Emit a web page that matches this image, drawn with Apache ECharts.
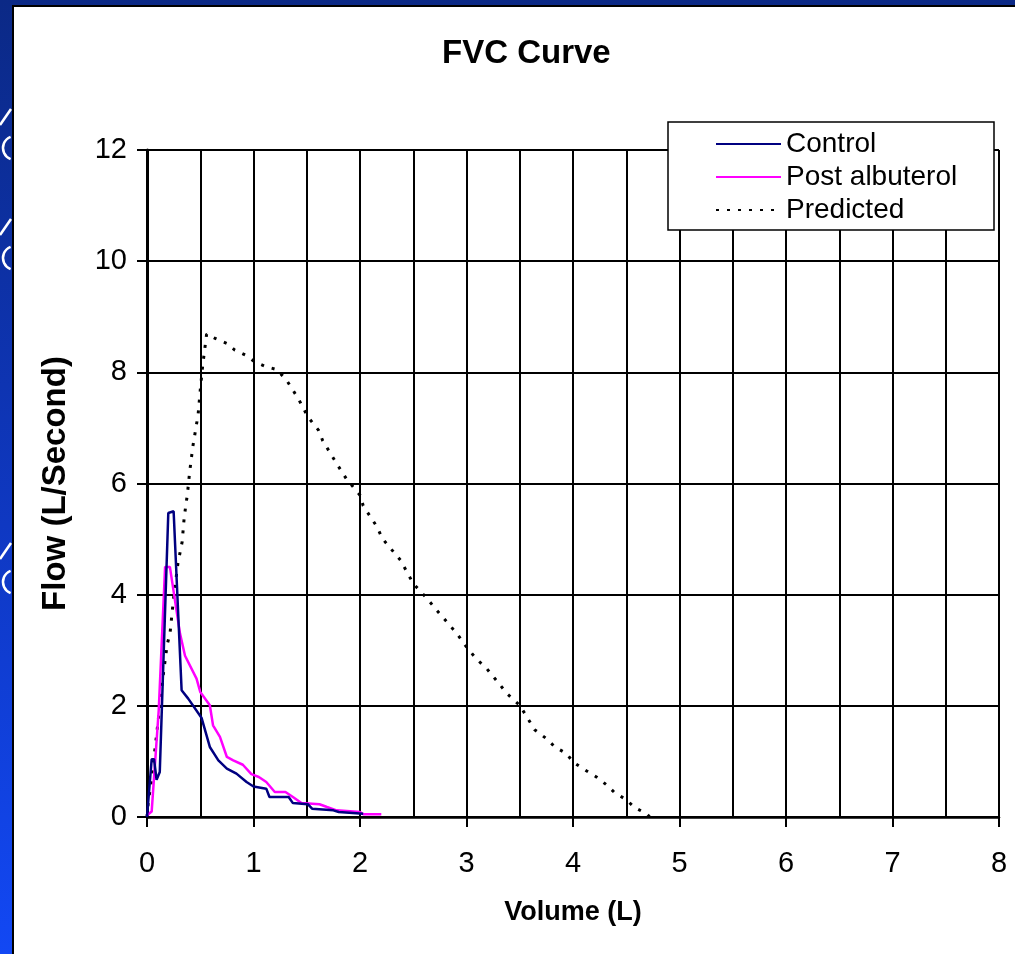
<!DOCTYPE html>
<html>
<head>
<meta charset="utf-8">
<title>FVC Curve</title>
<script src="https://cdn.jsdelivr.net/npm/echarts@6/dist/echarts.min.js"></script>
<style>
  html, body { margin: 0; padding: 0; width: 1015px; height: 954px; overflow: hidden;
    background: linear-gradient(to bottom, #0b2986 0%, #0f38c2 55%, #1248f4 100%); }
  #panel { position: absolute; left: 12px; top: 5px; width: 1020px; height: 960px;
    background: #fff; border-left: 2px solid #000; border-top: 2px solid #000; box-sizing: border-box; }
  #chart { position: absolute; left: 0; top: 0; width: 1015px; height: 954px; }
</style>
</head>
<body>
<div id="panel"></div>
<div id="chart"></div>
<script>
// Spirometry flow-volume loops: [volume (L), flow (L/s)]
const seriesNames = ['Control', 'Post albuterol', 'Predicted'];

const control = [
  [0, 0], [0.044, 1.04], [0.066, 1.04], [0.09, 0.67], [0.12, 0.81], [0.2, 5.47], [0.25, 5.5],
  [0.325, 2.28], [0.387, 2.13], [0.513, 1.78], [0.59, 1.26], [0.67, 1.02], [0.75, 0.87],
  [0.84, 0.78], [0.935, 0.63], [1.0, 0.55], [1.12, 0.51], [1.15, 0.36], [1.33, 0.36],
  [1.37, 0.25], [1.51, 0.23], [1.55, 0.15], [1.75, 0.12], [1.8, 0.09], [2.03, 0.06]
];

const postAlbuterol = [
  [0, 0.03], [0.044, 0.1], [0.11, 1.92], [0.17, 4.5], [0.215, 4.5], [0.31, 3.3], [0.357, 2.9],
  [0.465, 2.49], [0.5, 2.25], [0.59, 2.01], [0.62, 1.65], [0.685, 1.44], [0.75, 1.08],
  [0.81, 1.02], [0.9, 0.94], [0.98, 0.77], [1.05, 0.72], [1.12, 0.63], [1.2, 0.45],
  [1.3, 0.45], [1.37, 0.36], [1.45, 0.25], [1.62, 0.23], [1.69, 0.18], [1.78, 0.12],
  [2.0, 0.09], [2.03, 0.05], [2.2, 0.05]
];

const predicted = [
  [0, 0], [0.01, 0.23], [0.044, 0.7], [0.09, 1.48], [0.15, 2.52], [0.19, 3.11], [0.216, 3.3],
  [0.25, 3.94], [0.29, 4.56], [0.33, 4.95], [0.35, 5.4], [0.38, 5.82], [0.4, 6.2], [0.43, 6.66],
  [0.48, 7.24], [0.5, 7.68], [0.52, 8.07], [0.535, 8.31], [0.56, 8.69], [0.64, 8.61],
  [0.75, 8.52], [0.825, 8.4], [0.935, 8.3], [1.01, 8.19], [1.12, 8.1], [1.22, 8.05],
  [1.31, 7.86], [1.42, 7.53], [1.51, 7.2], [1.61, 6.96], [1.65, 6.77], [1.78, 6.36],
  [1.87, 6.09], [2.0, 5.79], [2.03, 5.6], [2.16, 5.22], [2.21, 5.01], [2.38, 4.62],
  [2.5, 4.2], [2.63, 3.93], [2.72, 3.72], [2.91, 3.3], [3.0, 3.06], [3.09, 2.85],
  [3.19, 2.67], [3.28, 2.46], [3.38, 2.22], [3.5, 2.01], [3.64, 1.57], [3.75, 1.41],
  [3.83, 1.26], [3.94, 1.14], [4.0, 0.99], [4.11, 0.85], [4.22, 0.72], [4.32, 0.57],
  [4.39, 0.44], [4.5, 0.31], [4.58, 0.17], [4.69, 0.06], [4.72, 0]
];

const volumeRange = [0, 8];
const flowRange = [0, 12];

const FONT = '"Liberation Sans", Arial, Helvetica, sans-serif';
const chart = echarts.init(document.getElementById('chart'), null, { renderer: 'canvas' });

// small white slide ornaments peeking out at the left edge
function ornament(dy) {
  return [
    { type: 'line', shape: { x1: 0, y1: 125 + dy, x2: 11, y2: 109 + dy },
      style: { stroke: '#fff', lineWidth: 2.5 }, silent: true },
    { type: 'arc', shape: { cx: 15, cy: 148 + dy, r: 12, startAngle: Math.PI * 0.62, endAngle: Math.PI * 1.38, clockwise: true },
      style: { stroke: '#fff', lineWidth: 2.5, fill: null }, silent: true }
  ];
}

chart.setOption({
  animation: false,
  backgroundColor: 'transparent',
  textStyle: { fontFamily: FONT, color: '#000' },
  title: {
    text: 'FVC Curve',
    left: 442, top: 37, padding: 0,
    textStyle: { fontFamily: FONT, fontSize: 33, fontWeight: 'bold', color: '#000' }
  },
  legend: {
    orient: 'vertical',
    left: 668, top: 122,
    padding: [8, 6, 6, 47],
    itemWidth: 65, itemHeight: 1, itemGap: 5,
    itemStyle: { opacity: 0, borderWidth: 0 },
    backgroundColor: '#fff',
    borderColor: '#000', borderWidth: 1.5, borderRadius: 0,
    data: seriesNames,
    textStyle: { fontFamily: FONT, fontSize: 28, color: '#000', lineHeight: 28, width: 202 }
  },
  grid: { left: 147, right: 16, top: 150, bottom: 137, containLabel: false },
  xAxis: {
    type: 'value', min: volumeRange[0], max: volumeRange[1], interval: 1,
    name: 'Volume (L)', nameLocation: 'middle', nameGap: 82,
    nameTextStyle: { fontFamily: FONT, fontSize: 27, fontWeight: 'bold', color: '#000' },
    axisLine: { show: true, onZero: false, lineStyle: { color: '#000', width: 2.5 } },
    axisTick: { show: true, inside: false, length: 10, lineStyle: { color: '#000', width: 2 } },
    axisLabel: { fontFamily: FONT, fontSize: 29, color: '#000', margin: 32 },
    splitLine: { show: true, lineStyle: { color: '#000', width: 2 } },
    minorTick: { show: false, splitNumber: 2 },
    minorSplitLine: { show: true, lineStyle: { color: '#000', width: 2 } }
  },
  yAxis: {
    type: 'value', min: flowRange[0], max: flowRange[1], interval: 2,
    name: 'Flow (L/Second)', nameLocation: 'middle', nameGap: 75,
    nameTextStyle: { fontFamily: FONT, fontSize: 33, fontWeight: 'bold', color: '#000' },
    axisLine: { show: true, lineStyle: { color: '#000', width: 3 } },
    axisTick: { show: true, inside: false, length: 10, lineStyle: { color: '#000', width: 2 } },
    axisLabel: { fontFamily: FONT, fontSize: 29, color: '#000', margin: 20 },
    splitLine: { show: true, lineStyle: { color: '#000', width: 2 } }
  },
  graphic: [].concat(ornament(0), ornament(110), ornament(434)),
  series: [
    { name: seriesNames[0], type: 'line', data: control, symbol: 'none', z: 4,
      lineStyle: { color: '#000080', width: 2.5 }, itemStyle: { color: '#000080' } },
    { name: seriesNames[1], type: 'line', data: postAlbuterol, symbol: 'none', z: 3,
      lineStyle: { color: '#ff00ff', width: 2.5 }, itemStyle: { color: '#ff00ff' } },
    { name: seriesNames[2], type: 'line', data: predicted, symbol: 'none', z: 2,
      lineStyle: { color: '#000', width: 3, type: [3, 8] }, itemStyle: { color: '#000' } }
  ]
});
</script>
</body>
</html>
